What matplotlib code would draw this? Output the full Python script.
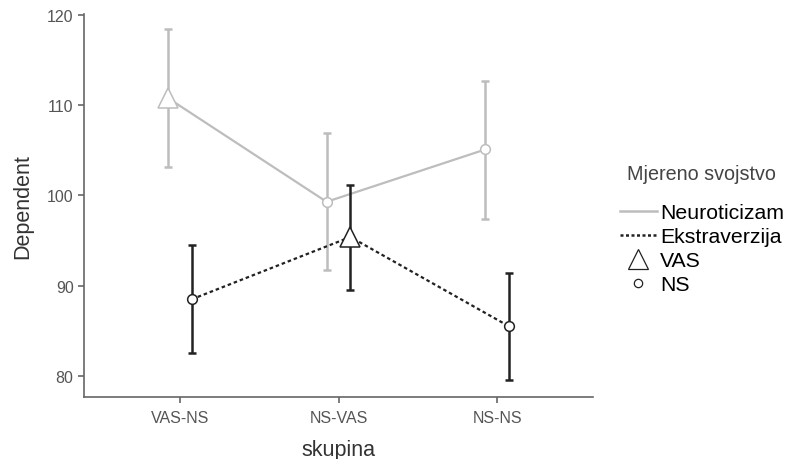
import matplotlib.pyplot as plt
import numpy as np
from matplotlib.lines import Line2D

plt.rcParams['font.family'] = ['Liberation Sans', 'DejaVu Sans']

groups = ["VAS-NS", "NS-VAS", "NS-NS"]
# marker = measuring method (VAS triangle, NS circle)
neuro_markers = ["^", "o", "o"]
extra_markers = ["o", "^", "o"]

neuro_mean = [110.8, 99.3, 105.1]
neuro_lo = [103.2, 91.8, 97.4]
neuro_hi = [118.5, 106.9, 112.7]

extra_mean = [88.5, 95.4, 85.5]
extra_lo = [82.6, 89.5, 79.6]
extra_hi = [94.5, 101.2, 91.4]

grey = "#bdbdbd"
dark = "#222222"
axc = "#666666"

fig = plt.figure(figsize=(7.91, 4.6), dpi=100)
ax = fig.add_axes([84/791, 1 - 397.5/460, (593 - 84)/791, (397.5 - 14.7)/460])

x = np.arange(1, len(groups) + 1)
dodge = 0.075


def draw(xs, mean, lo, hi, mks, col, ls, z):
    mean = np.array(mean)
    err = [mean - np.array(lo), np.array(hi) - mean]
    ax.errorbar(xs, mean, yerr=err, fmt="none", ecolor=col, elinewidth=1.8,
                capsize=3, capthick=1.8, zorder=z)
    ax.plot(xs, mean, color=col, lw=1.6, ls=ls, zorder=z + 0.1)
    for xi, yi, m in zip(xs, mean, mks):
        ax.plot(xi, yi, marker=m, ms=15 if m == "^" else 7, mfc="white",
                mec=col, mew=1.1, ls="none", zorder=z + 0.2)


draw(x - dodge, neuro_mean, neuro_lo, neuro_hi, neuro_markers, grey, "-", 2)
draw(x + dodge, extra_mean, extra_lo, extra_hi, extra_markers, dark, (0, (1.6, 1.3)), 3)

ax.set_xlim(1 - 96/159, 3 + 96/159)
ax.set_ylim(77.73, 120.14)
ax.set_xticks(x)
ax.set_xticklabels(groups)
ax.set_yticks([80, 90, 100, 110, 120])

for s in ["top", "right"]:
    ax.spines[s].set_visible(False)
for s in ["left", "bottom"]:
    ax.spines[s].set_color(axc)
    ax.spines[s].set_linewidth(1.2)
ax.tick_params(colors=axc, labelcolor="#555555", labelsize=11.5, length=4, width=1.2)
ax.tick_params(axis="x", pad=6)

ax.set_xlabel("skupina", fontsize=15.5, color="#333333", labelpad=10)
ax.set_ylabel("Dependent", fontsize=15.5, color="#333333", labelpad=10)

fig.text(627/791, 1 - 174/460, "Mjereno svojstvo", fontsize=14.2, color="#444444",
         ha="left", va="center")

handles = [
    Line2D([], [], color=grey, lw=1.8),
    Line2D([], [], color=dark, lw=1.8, ls=(0, (1.2, 1.0))),
    Line2D([], [], color=dark, marker="^", ms=15, mfc="white", mew=0.9, ls="none"),
    Line2D([], [], color=dark, marker="o", ms=6, mfc="white", mew=0.9, ls="none"),
]
labels = ["Neuroticizam", "Ekstraverzija", "VAS", "NS"]
leg = fig.legend(handles, labels, loc="upper left",
                 bbox_to_anchor=(620/791, 1 - 204/460), frameon=False,
                 fontsize=15.3, handlelength=1.74, borderpad=0,
                 handletextpad=0.15, labelspacing=0.24, borderaxespad=0)

fig.savefig("out.png", dpi=100)
